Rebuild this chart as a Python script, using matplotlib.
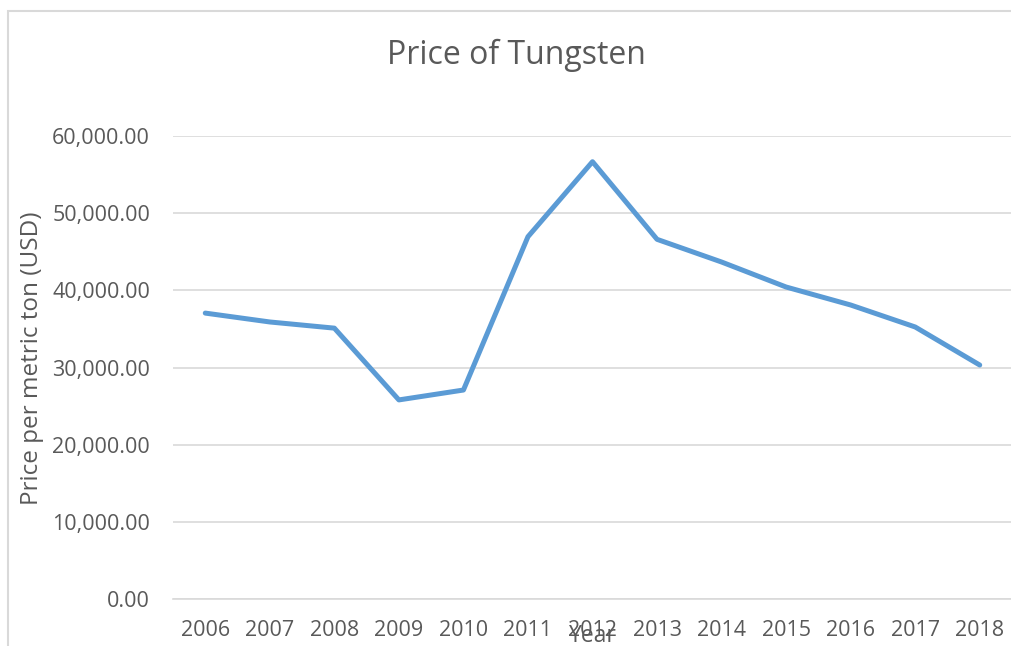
import matplotlib
matplotlib.use("Agg")
from matplotlib import pyplot as plt
from matplotlib.patches import Rectangle
from matplotlib.ticker import FuncFormatter

years = ['2006', '2007', '2008', '2009', '2010', '2011', '2012',
         '2013', '2014', '2015', '2016', '2017', '2018']
prices = [37050, 35900, 35100, 25800, 27080, 46950, 56670,
          46610, 43670, 40430, 38100, 35250, 30320]

plt.rcParams['font.family'] = ['Open Sans', 'DejaVu Sans']
text_color = '#595959'
grid_color = '#D9D9D9'

fig = plt.figure(figsize=(10.11, 6.46), dpi=100)
W, H = 1011, 646
ax = fig.add_axes([173 / W, 47 / H, (1012 - 173) / W, (599 - 136) / H])

# chart border (light gray frame, runs off the right and bottom edge)
fig.patches.append(Rectangle((8 / W, -0.1), 1.2, 1.1 - 11 / H, transform=fig.transFigure,
                             fill=False, edgecolor=grid_color, linewidth=1.5, zorder=0))

x = list(range(len(years)))
ax.plot(x, prices, color='#5B9BD5', linewidth=3.6, solid_capstyle='round',
        solid_joinstyle='round', zorder=3)

ax.set_xlim(-0.5, len(years) - 0.5)
ax.set_ylim(0, 60000)
ax.set_yticks(range(0, 60001, 10000))
ax.yaxis.set_major_formatter(FuncFormatter(lambda v, p: f"{v:,.2f}"))
ax.set_xticks(x)
ax.set_xticklabels(years)
ax.grid(axis='y', color=grid_color, linewidth=1.2)
ax.set_axisbelow(True)
for s in ['top', 'right', 'left']:
    ax.spines[s].set_visible(False)
ax.spines['bottom'].set_color(grid_color)
ax.spines['bottom'].set_linewidth(1.2)
ax.tick_params(length=0, labelsize=15.5, colors=text_color)
ax.tick_params(axis='y', pad=16.5)
ax.tick_params(axis='x', pad=15)

fig.text(516 / W, 1 - 55 / H, 'Price of Tungsten', ha='center', va='center',
         fontsize=23, color=text_color)
fig.text(32 / W, 1 - 358 / H, 'Price per metric ton (USD)', ha='center', va='center',
         rotation=90, fontsize=17.5, color=text_color)
fig.text(593 / W, 1 - 636 / H, 'Year', ha='center', va='center',
         fontsize=16.5, color=text_color)

fig.savefig('out.png', dpi=100)
